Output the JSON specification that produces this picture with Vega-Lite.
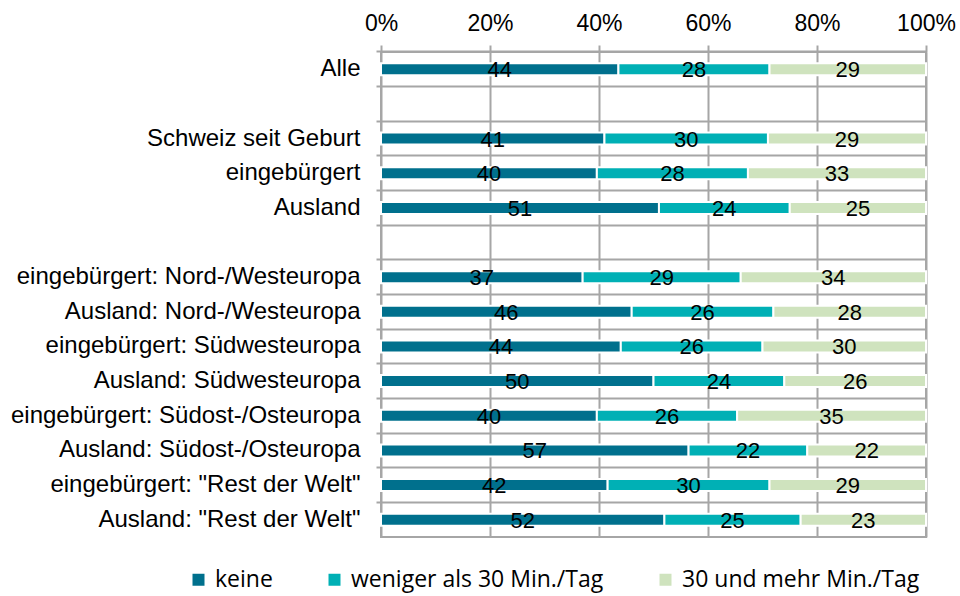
{
  "$schema": "https://vega.github.io/schema/vega-lite/v6.json",
  "width": 545,
  "height": 485,
  "autosize": {"type": "none"},
  "padding": {"left": 381, "top": 52, "right": 34, "bottom": 59},
  "background": "white",
  "config": {
    "view": {"stroke": "#a6a6a6", "strokeWidth": 2},
    "font": "Liberation Sans"
  },
  "data": {
    "values": [
      {"cat": "Alle", "group": "keine", "order": 1, "value": 44},
      {"cat": "Alle", "group": "weniger als 30 Min./Tag", "order": 2, "value": 28},
      {"cat": "Alle", "group": "30 und mehr Min./Tag", "order": 3, "value": 29},
      {"cat": "Schweiz seit Geburt", "group": "keine", "order": 1, "value": 41},
      {"cat": "Schweiz seit Geburt", "group": "weniger als 30 Min./Tag", "order": 2, "value": 30},
      {"cat": "Schweiz seit Geburt", "group": "30 und mehr Min./Tag", "order": 3, "value": 29},
      {"cat": "eingebürgert", "group": "keine", "order": 1, "value": 40},
      {"cat": "eingebürgert", "group": "weniger als 30 Min./Tag", "order": 2, "value": 28},
      {"cat": "eingebürgert", "group": "30 und mehr Min./Tag", "order": 3, "value": 33},
      {"cat": "Ausland", "group": "keine", "order": 1, "value": 51},
      {"cat": "Ausland", "group": "weniger als 30 Min./Tag", "order": 2, "value": 24},
      {"cat": "Ausland", "group": "30 und mehr Min./Tag", "order": 3, "value": 25},
      {"cat": "eingebürgert: Nord-/Westeuropa", "group": "keine", "order": 1, "value": 37},
      {"cat": "eingebürgert: Nord-/Westeuropa", "group": "weniger als 30 Min./Tag", "order": 2, "value": 29},
      {"cat": "eingebürgert: Nord-/Westeuropa", "group": "30 und mehr Min./Tag", "order": 3, "value": 34},
      {"cat": "Ausland: Nord-/Westeuropa", "group": "keine", "order": 1, "value": 46},
      {"cat": "Ausland: Nord-/Westeuropa", "group": "weniger als 30 Min./Tag", "order": 2, "value": 26},
      {"cat": "Ausland: Nord-/Westeuropa", "group": "30 und mehr Min./Tag", "order": 3, "value": 28},
      {"cat": "eingebürgert: Südwesteuropa", "group": "keine", "order": 1, "value": 44},
      {"cat": "eingebürgert: Südwesteuropa", "group": "weniger als 30 Min./Tag", "order": 2, "value": 26},
      {"cat": "eingebürgert: Südwesteuropa", "group": "30 und mehr Min./Tag", "order": 3, "value": 30},
      {"cat": "Ausland: Südwesteuropa", "group": "keine", "order": 1, "value": 50},
      {"cat": "Ausland: Südwesteuropa", "group": "weniger als 30 Min./Tag", "order": 2, "value": 24},
      {"cat": "Ausland: Südwesteuropa", "group": "30 und mehr Min./Tag", "order": 3, "value": 26},
      {"cat": "eingebürgert: Südost-/Osteuropa", "group": "keine", "order": 1, "value": 40},
      {"cat": "eingebürgert: Südost-/Osteuropa", "group": "weniger als 30 Min./Tag", "order": 2, "value": 26},
      {"cat": "eingebürgert: Südost-/Osteuropa", "group": "30 und mehr Min./Tag", "order": 3, "value": 35},
      {"cat": "Ausland: Südost-/Osteuropa", "group": "keine", "order": 1, "value": 57},
      {"cat": "Ausland: Südost-/Osteuropa", "group": "weniger als 30 Min./Tag", "order": 2, "value": 22},
      {"cat": "Ausland: Südost-/Osteuropa", "group": "30 und mehr Min./Tag", "order": 3, "value": 22},
      {"cat": "eingebürgert: \"Rest der Welt\"", "group": "keine", "order": 1, "value": 42},
      {"cat": "eingebürgert: \"Rest der Welt\"", "group": "weniger als 30 Min./Tag", "order": 2, "value": 30},
      {"cat": "eingebürgert: \"Rest der Welt\"", "group": "30 und mehr Min./Tag", "order": 3, "value": 29},
      {"cat": "Ausland: \"Rest der Welt\"", "group": "keine", "order": 1, "value": 52},
      {"cat": "Ausland: \"Rest der Welt\"", "group": "weniger als 30 Min./Tag", "order": 2, "value": 25},
      {"cat": "Ausland: \"Rest der Welt\"", "group": "30 und mehr Min./Tag", "order": 3, "value": 23}
    ]
  },
  "transform": [
    {"stack": "value", "groupby": ["cat"], "sort": [{"field": "order", "order": "ascending"}], "offset": "normalize", "as": ["v0", "v1"]},
    {"calculate": "(datum.v0 + datum.v1) / 2", "as": "mid"}
  ],
  "encoding": {
    "y": {
      "field": "cat",
      "type": "nominal",
      "sort": null,
      "scale": {
        "domain": ["Alle", " ", "Schweiz seit Geburt", "eingebürgert", "Ausland", "  ", "eingebürgert: Nord-/Westeuropa", "Ausland: Nord-/Westeuropa", "eingebürgert: Südwesteuropa", "Ausland: Südwesteuropa", "eingebürgert: Südost-/Osteuropa", "Ausland: Südost-/Osteuropa", "eingebürgert: \"Rest der Welt\"", "Ausland: \"Rest der Welt\""],
        "paddingInner": 0,
        "paddingOuter": 0
      },
      "axis": {
        "title": null,
        "domain": false,
        "bandPosition": 0,
        "grid": true,
        "gridColor": "#a6a6a6",
        "gridWidth": 2,
        "ticks": true,
        "tickColor": "#a6a6a6",
        "tickWidth": 2,
        "tickSize": 5,
        "labelFont": "Liberation Sans",
        "labelFontSize": 24,
        "labelColor": "#000000",
        "labelPadding": 16,
        "labelLimit": 400
      }
    }
  },
  "layer": [
    {
      "mark": {"type": "bar", "size": 12, "stroke": "white", "strokeWidth": 2},
      "encoding": {
        "x": {
          "field": "v0",
          "type": "quantitative",
          "scale": {"domain": [0, 1], "nice": false},
          "axis": {
            "orient": "top",
            "title": null,
            "format": ".0%",
            "values": [0, 0.2, 0.4, 0.6, 0.8, 1],
            "domain": false,
            "grid": true,
            "gridColor": "#a6a6a6",
            "gridWidth": 2,
            "ticks": true,
            "tickColor": "#a6a6a6",
            "tickWidth": 2,
            "tickSize": 7,
            "labelFont": "Liberation Sans",
            "labelFontSize": 23,
            "labelColor": "#000000",
            "labelPadding": 10,
            "labelFlush": false
          }
        },
        "x2": {"field": "v1"},
        "color": {
          "field": "group",
          "type": "nominal",
          "scale": {
            "domain": ["keine", "weniger als 30 Min./Tag", "30 und mehr Min./Tag"],
            "range": ["#00708d", "#00b0b5", "#cfe3be"]
          },
          "legend": {
            "title": null,
            "orient": "none",
            "direction": "horizontal",
            "legendX": -194,
            "legendY": 516,
            "symbolType": "square",
            "symbolSize": 144,
            "symbolStrokeWidth": 0,
            "labelFont": "Open Sans",
            "labelFontSize": 23,
            "labelColor": "#000000",
            "labelOffset": 5,
            "labelLimit": 500,
            "columnPadding": 50
          }
        }
      }
    },
    {
      "mark": {"type": "text", "font": "Liberation Sans", "fontSize": 22, "color": "#000000", "baseline": "middle", "dy": 1},
      "encoding": {
        "x": {"field": "mid", "type": "quantitative"},
        "text": {"field": "value", "type": "quantitative"}
      }
    }
  ]
}
